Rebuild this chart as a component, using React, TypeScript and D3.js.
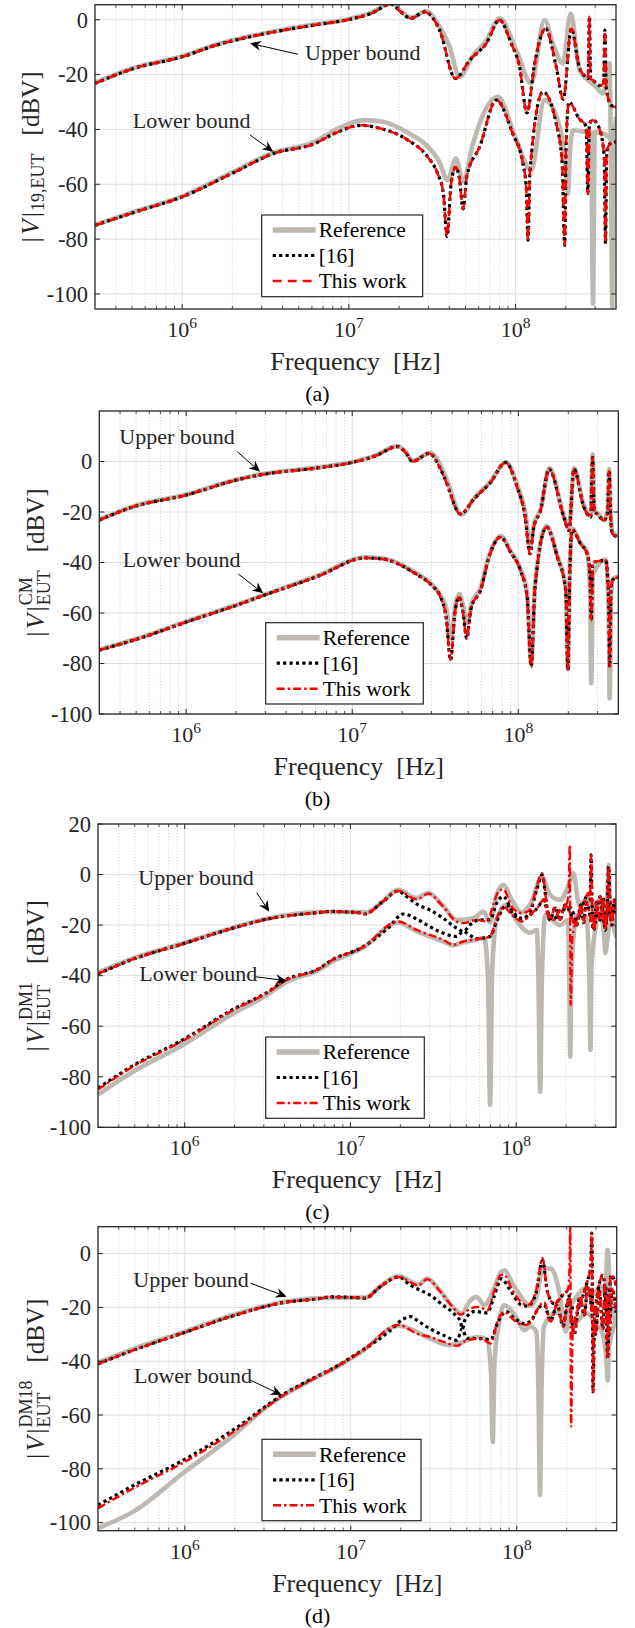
import React from 'react';
import * as d3 from 'd3';

type Pt = [number, number]; // [frequency in MHz, level in dBV]

// ---------------- Panel (a) ----------------
const aUpperRef: Pt[] = [[0.3,-23],[0.51,-17.6],[1,-13.3],[1.61,-9],[2.55,-6],[4.04,-3.6],[6.22,-1.7],[10,0.3],[13.6,2.6],[18,6.2],[20.5,3.2],[23.8,0.8],[29,3.1],[35,-2.5],[40,-9.5],[46.2,-20.8],[54.9,-13.5],[66.8,-7.5],[80.2,0.5],[101,-11.1],[124,-23.2],[149,-0.1],[170,-10],[192,-15.9],[214,2.3],[242,-18.4],[272,-22],[305,-24.5],[334,-26.9],[360,-18],[366,-15.9],[374,-60],[380,-104.8],[386,-60],[400,-35.4]];
const aUpper16: Pt[] = [[0.3,-23.2],[0.51,-17.8],[1,-13.5],[1.61,-9.2],[2.55,-6.2],[4.04,-3.8],[6.22,-1.9],[10,0.1],[13.6,2.3],[17.9,5.7],[20.5,2.8],[23.6,0.5],[28.4,2.9],[35,-3.8],[43.5,-21.4],[53,-14.7],[66.8,-8.6],[80,-0.1],[94,-8.6],[105.6,-17.2],[117,-34],[130,-16],[151,-3.2],[175,-17],[193,-29],[216,-3.2],[240,-17],[265,-21],[272,-21.5],[277,1.1],[282,-21.5],[290,-22],[320,-24],[337,-23],[343,-3.8],[350,-25],[374,-31.2],[400,-31.8]];
const aUpperThis: Pt[] = [[0.3,-23.2],[0.51,-17.8],[1,-13.5],[1.61,-9.2],[2.55,-6.2],[4.04,-3.8],[6.22,-1.9],[10,0.1],[13.6,2.3],[17.9,5.7],[20.5,2.8],[23.6,0.5],[28.4,2.9],[35,-3.8],[43.5,-21.4],[53,-14.7],[66.8,-8.6],[80,-0.1],[94,-8.6],[105.6,-17.2],[117,-34],[130,-16],[151,-3.2],[175,-17],[193,-29],[216,-3.2],[240,-17],[265,-21],[272,-21.5],[277,1.1],[282,-21.5],[290,-22],[320,-24],[337,-23],[343,-3.8],[350,-25],[374,-31.2],[400,-31.8]];
const aLowerRef: Pt[] = [[0.3,-74.8],[0.55,-69.5],[1,-64.4],[2,-55.6],[3.52,-48.5],[6.22,-44.5],[8.2,-40.3],[12.4,-36.6],[16,-37.2],[23,-41.5],[30,-46.5],[35,-52],[39,-58.5],[43.8,-50.6],[48.5,-59],[55,-46],[78.3,-28.1],[101,-43.9],[124,-54.9],[149,-29.3],[184,-39],[200,-55],[206,-63.4],[212,-48],[221,-40.3],[265,-40.9],[284,-41],[287,-70],[291,-103.6],[295,-70],[298,-41],[334,-41.5],[400,-45]];
const aLower16: Pt[] = [[0.3,-75],[0.55,-69.7],[1,-64.6],[2,-56],[3.52,-48.8],[6.22,-45.2],[8.2,-41.5],[11.9,-38.5],[15.6,-39.7],[22.6,-43.9],[29.7,-50],[34,-56],[36.8,-63],[38.8,-79],[41,-60],[43.8,-53.7],[46,-58],[48.4,-69],[51,-57],[60.8,-46.4],[76.6,-29.3],[96,-41.5],[110.7,-52.5],[116,-62],[118.6,-80.4],[122,-55],[146,-26.3],[175,-37.8],[190,-52],[197,-82.3],[201,-45],[209,-30],[240,-36],[265,-39],[271,-63.4],[277,-38],[290,-36.6],[318,-39.7],[340,-50],[346,-81.7],[352,-48],[369,-45.2],[401,-44.5]];
const aLowerThis: Pt[] = [[0.3,-75],[0.55,-69.7],[1,-64.6],[2,-56],[3.52,-48.8],[6.22,-45.2],[8.2,-41.5],[11.9,-38.5],[15.6,-39.7],[22.6,-43.9],[29.7,-50],[34,-56],[36.8,-63],[38.8,-79],[41,-60],[43.8,-53.7],[46,-58],[48.4,-69],[51,-57],[60.8,-46.4],[76.6,-29.3],[96,-41.5],[110.7,-52.5],[116,-62],[118.6,-80.4],[122,-55],[146,-26.3],[175,-37.8],[190,-52],[197,-82.3],[201,-45],[209,-30],[240,-36],[265,-39],[271,-63.4],[277,-38],[290,-36.6],[318,-39.7],[340,-50],[346,-81.7],[352,-48],[369,-45.2],[401,-44.5]];

// ---------------- Panel (b) ----------------
const bUpperRef: Pt[] = [[0.3,-23],[0.484,-17.7],[1,-13.1],[1.94,-7.4],[2.8,-5.1],[6.44,-2.2],[10,-0.2],[13.8,2.4],[18.7,6.1],[21,3.8],[23.2,0.3],[29.5,3.4],[34.5,-2.4],[37,-7],[45.5,-21],[54,-14.6],[68,-8],[84.5,-0.3],[98.6,-9.5],[110,-20],[118,-33],[124,-25],[136,-19],[154,-2.6],[188,-21.5],[202,-26.5],[217,-2.6],[248,-17.5],[273,-21.5],[280,2.9],[287,-19.5],[299,-20.3],[328,-23],[345,-19.5],[352,-3],[360,-21.5],[369,-28],[404,-29.5]];
const bUpper16: Pt[] = [[0.3,-23.2],[0.484,-17.9],[1,-13.3],[1.94,-7.6],[2.8,-5.3],[6.44,-2.4],[10,-0.4],[13.8,2.2],[18.7,5.9],[21,3.5],[23,0],[29,3.2],[34,-3],[36.5,-7.6],[44.9,-20.8],[54,-14.9],[68,-8.3],[83.8,-0.4],[98.6,-10.3],[110,-22],[117.5,-36.6],[124,-26],[136,-19.5],[153,-3],[188,-22],[202,-27.4],[216,-3],[248,-18],[273,-22],[280,1.6],[287,-20],[299,-20.8],[328,-23.4],[345,-20],[352,-3.7],[360,-22],[369,-28.7],[404,-30]];
const bUpperThis: Pt[] = [[0.3,-23.2],[0.484,-17.9],[1,-13.3],[1.94,-7.6],[2.8,-5.3],[6.44,-2.4],[10,-0.4],[13.8,2.2],[18.7,5.9],[21,3.5],[23,0],[29,3.2],[34,-3],[36.5,-7.6],[44.9,-20.8],[54,-14.9],[68,-8.3],[83.8,-0.4],[98.6,-10.3],[110,-22],[117.5,-36.6],[124,-26],[136,-19.5],[153,-3],[188,-22],[202,-27.4],[216,-3],[248,-18],[273,-22],[280,1.6],[287,-20],[299,-20.8],[328,-23.4],[345,-20],[352,-3.7],[360,-22],[369,-28.7],[404,-30]];
const bLowerRef: Pt[] = [[0.3,-74.5],[0.55,-69.4],[1,-63.4],[2,-56.8],[2.94,-52.8],[6.2,-45.2],[12,-37.9],[15.2,-38.3],[24.1,-44],[30,-48.5],[34,-53],[36.8,-58],[39.3,-70],[42,-56],[44.2,-52.5],[46.8,-58],[49.2,-64],[52.5,-56],[59.3,-50],[66.5,-37.5],[78.5,-29.5],[90,-35.5],[103,-42.5],[113,-52],[119.6,-80],[126,-49],[148,-25.6],[172,-37.5],[193,-50],[199,-82],[204,-44],[211,-26.6],[237,-32.2],[260,-36.2],[270,-50],[275,-87.8],[281,-45],[336,-38.8],[350,-60],[355,-93.8],[361,-55],[369,-46.5],[404,-45.5]];
const bLower16: Pt[] = [[0.3,-74.7],[0.55,-69.6],[1,-63.6],[2,-57],[2.94,-53],[6.2,-45.5],[12,-38.2],[15.2,-38.6],[24.1,-44.5],[30,-49],[34,-53.7],[36.8,-62],[39.1,-78.6],[41.5,-60],[43.9,-53.7],[46.5,-60],[48.9,-70.1],[52,-58],[59.3,-51],[66.5,-38],[78.2,-30],[90,-36],[103,-43.1],[113,-53.7],[119.6,-81.3],[126,-50],[148,-26],[172,-37.9],[193,-51],[199,-82.6],[204,-45],[211,-27],[237,-32.6],[260,-36.6],[270,-45],[275,-62.9],[281,-40],[336,-39.2],[350,-55],[355,-81.3],[362,-50],[369,-47],[404,-45.8]];
const bLowerThis: Pt[] = [[0.3,-74.7],[0.55,-69.6],[1,-63.6],[2,-57],[2.94,-53],[6.2,-45.5],[12,-38.2],[15.2,-38.6],[24.1,-44.5],[30,-49],[34,-53.7],[36.8,-62],[39.1,-78.6],[41.5,-60],[43.9,-53.7],[46.5,-60],[48.9,-70.1],[52,-58],[59.3,-51],[66.5,-38],[78.2,-30],[90,-36],[103,-43.1],[113,-53.7],[119.6,-81.3],[126,-50],[148,-26],[172,-37.9],[193,-51],[199,-82.6],[204,-45],[211,-27],[237,-32.6],[260,-36.6],[270,-45],[275,-62.9],[281,-40],[336,-39.2],[350,-55],[355,-81.3],[362,-50],[369,-47],[404,-45.8]];

// ---------------- Panel (c) ----------------
const cUpperRef: Pt[] = [[0.3,-38.8],[0.488,-33.2],[1,-27],[1.96,-21],[3.11,-17.5],[6.55,-14.8],[11.9,-14.8],[12.5,-15],[15.7,-10.5],[19.4,-6],[25.1,-9.3],[29.5,-7.3],[36.3,-12.5],[43.7,-18],[50,-17.8],[57.7,-16.6],[63.3,-14.6],[69.5,-19],[76.2,-8],[83.6,-4.1],[94,-10],[108,-15],[121,-12],[143,-1],[160,-8],[184,-10],[205,-5],[221,0.5],[240,-12],[265,-10],[292,-12],[321,-10],[344,-20],[355,-10],[361,3.8],[368,-12],[385,-20],[405,-25]];
const cUpper16: Pt[] = [[0.3,-39.3],[0.488,-33.5],[1,-27.2],[1.96,-21.2],[3.11,-17.7],[6.55,-15],[7.5,-14.6],[11.9,-15.3],[12.2,-15.6],[15.7,-10.7],[19.4,-6.5],[21.8,-8.7],[25.6,-12],[30.1,-14],[36.3,-17.3],[43.7,-21.2],[48,-22.5],[52.6,-19.9],[60.4,-17.9],[69.5,-17.9],[76.2,-11.3],[83.6,-8.7],[94,-14],[108,-17.3],[121,-15],[133,-6],[143,-0.1],[156,-15.3],[168,-17.9],[184,-14],[197,-13.5],[211,-13],[232,-17.9],[255,-11.3],[273,-7.4],[279,-10],[283,7.8],[287,-12],[292,-22],[321,-8.7],[344,-20.6],[355,-10],[361,3.2],[367,-10],[378,-15.3],[405,-10]];
const cUpperThis: Pt[] = [[0.3,-39.3],[0.488,-33.5],[1,-27.2],[1.96,-21.2],[3.11,-17.7],[6.55,-15],[7.5,-14.6],[11.9,-15.3],[12.2,-15.6],[15.7,-10.7],[19.4,-6.5],[25.1,-9.8],[29.5,-7.6],[36.3,-12.7],[43.7,-18.6],[48,-19.2],[57.7,-17.9],[66.4,-18.6],[72.8,-12],[78,-6.7],[83.6,-5.8],[94,-12.7],[108,-15.3],[121,-14],[133,-4.7],[143,0.5],[156,-15.3],[168,-17.9],[184,-14],[197,-13],[207,-8],[210.5,11.7],[213,-51.6],[218,-25],[232,-17.9],[255,-11.3],[273,-7.4],[279,-10],[283,7.8],[287,-12],[292,-22],[321,-8.7],[344,-20.6],[355,-10],[361,3.2],[367,-10],[378,-15.3],[405,-10]];
const cLowerRef: Pt[] = [[0.3,-87],[0.488,-78],[1,-67],[1.96,-55],[3.11,-47.8],[4.11,-42.5],[6.55,-37.5],[7.5,-35],[11.9,-29],[19.4,-19],[25.1,-22.5],[30.1,-24.5],[36.3,-26.5],[41.7,-28],[48,-26.8],[57.7,-25.8],[64,-25],[67.5,-40],[69.6,-91.1],[71.5,-40],[76.2,-18],[87.6,-12],[100,-18],[121,-23],[133,-22],[136,-40],[139.6,-85.9],[143,-40],[150,-16],[184,-20],[205,-18],[209,-40],[212,-72],[215,-40],[232,-16],[265,-17],[276,-40],[280.6,-69.4],[285,-35],[321,-15],[340,-25],[345,-31.1],[365,-20],[405,-18]];
const cLower16: Pt[] = [[0.3,-84.5],[0.488,-75.6],[1,-65],[1.96,-53.3],[3.11,-46.8],[4.11,-41.5],[6.55,-37],[7.5,-34.3],[11.9,-28.6],[17,-21],[20.8,-15.6],[25.6,-17.9],[30.1,-20.6],[36.3,-23.2],[43.7,-24.5],[48,-22.5],[52.6,-24],[57.7,-25.4],[69.5,-24.5],[76.2,-18.5],[87.6,-12],[94,-15],[108,-18],[121,-16],[136,-12.7],[146,-10],[160,-17.9],[172,-13],[184,-18],[197,-12],[232,-20],[245,-12],[255,-19],[265,-11],[292,-21],[305,-11],[321,-18],[335,-9],[344,-22],[360,-12],[378,-20],[390,-10],[405,-17]];
const cLowerThis: Pt[] = [[0.3,-85],[0.488,-76],[1,-65.4],[1.96,-53.6],[3.11,-47],[4.11,-41.7],[6.55,-37.1],[7.5,-34.4],[11.9,-28.7],[19.4,-18.6],[25.1,-21.9],[30.1,-23.9],[36.3,-25.8],[41.7,-27.8],[48,-26.5],[57.7,-25.6],[69.5,-24.5],[76.2,-17.3],[83.6,-12.7],[94,-15.9],[108,-18.6],[121,-16],[136,-12.7],[146,-10],[160,-17.9],[172,-13],[184,-18],[197,-12],[232,-20],[245,-12],[255,-19],[265,-11],[292,-21],[305,-11],[321,-18],[335,-9],[344,-22],[360,-12],[378,-20],[390,-10],[405,-17]];

// ---------------- Panel (d) ----------------
const dUpperRef: Pt[] = [[0.3,-40.5],[0.487,-35.5],[1,-29],[1.96,-22.8],[3.93,-18],[6.55,-16.5],[11.7,-16.3],[12.2,-16.4],[15,-12.2],[19.4,-8.3],[25.6,-11.5],[28.8,-9.3],[34.7,-14],[41.8,-20.3],[46.5,-22.3],[52.7,-17.3],[57,-16.1],[64,-19],[72.9,-13],[80,-7],[84.5,-6.2],[94,-11],[106,-16],[121,-19.5],[133,-15],[143,-5.6],[160,-5.6],[180,-14],[197,-29],[210,-20],[230,-16],[255,-13],[290,-15],[320,-12],[340,-15],[353,1.4],[365,-15],[397,-26]];
const dUpper16: Pt[] = [[0.3,-41],[0.487,-36],[1,-29.3],[1.96,-23.1],[3.93,-18.2],[6.55,-16.7],[7.5,-16.1],[11.7,-16.5],[12.2,-16.6],[15,-12.4],[19.4,-8.7],[22.9,-11.8],[26,-13.5],[30.2,-15.5],[36,-19.2],[41.8,-22.3],[45.8,-25.4],[47,-28],[49,-24.2],[56,-21.5],[66.5,-22],[72.9,-16],[81,-9.3],[90,-13],[106,-19],[116,-19.5],[130,-15],[143,-2.5],[153,-14.2],[168,-18.6],[189,-15.5],[204,-14],[212,-20],[233,-20.4],[255,-14.2],[267,-10],[279,-5],[283,7.6],[286,-20],[288,-51.4],[294,-25],[308,-14.2],[330,-8],[345,-20],[353,-39],[362,-15],[370,-8],[397,-11.8]];
const dUpperThis: Pt[] = [[0.3,-41],[0.487,-36],[1,-29.3],[1.96,-23.1],[3.93,-18.2],[6.55,-16.7],[7.5,-16.1],[11.7,-16.5],[12.2,-16.6],[15,-12.4],[19.4,-8.7],[25.6,-11.8],[28.8,-9.5],[34.7,-14.2],[41.8,-20.4],[45.8,-22.7],[52.7,-20.4],[59.2,-19.8],[66.5,-21.1],[72.9,-14.2],[80,-8],[83.8,-7.8],[94,-13.6],[106,-18],[116,-19.2],[130,-14.2],[143,-1.7],[153,-14.2],[168,-18.6],[189,-15.5],[204,-13],[208,-5],[210,12],[212.5,-64.4],[217,-30],[233,-20.4],[255,-14.2],[267,-10],[279,-5],[283,7.6],[286,-20],[288,-51.4],[294,-25],[308,-14.2],[330,-8],[345,-20],[353,-39],[362,-15],[370,-8],[397,-11.8]];
const dLowerRef: Pt[] = [[0.3,-102],[0.487,-96],[1,-81.1],[1.96,-67.6],[3.1,-57],[3.93,-52.7],[6.55,-45.3],[7.5,-43.5],[11.9,-36],[19.4,-26.8],[30,-31.5],[39,-34],[48,-32.7],[57.7,-31],[66.5,-32],[70,-45],[71.6,-70],[73.5,-40],[78,-26],[83.8,-19.2],[100,-24],[110.7,-28.5],[121,-27],[131,-29],[135,-50],[138,-89.8],[141,-50],[146,-27],[170,-22],[197,-22],[230,-25],[260,-22],[300,-26],[330,-30],[347,-40],[353,-47.2],[360,-35],[397,-25]];
const dLower16: Pt[] = [[0.3,-93.5],[0.487,-86.3],[1,-76.5],[1.96,-65.5],[3.93,-52.3],[6.55,-45],[7.5,-43.2],[11.9,-35.7],[17,-29],[20.9,-24.2],[22.9,-23.4],[26,-25.5],[30,-27.9],[36.3,-30.4],[43.7,-32.2],[46.9,-28],[50,-31.5],[60.5,-31.6],[69.6,-32],[76.4,-26],[86,-21.5],[96.4,-24],[110.7,-26],[121.6,-25],[136,-20],[146,-19],[160,-25],[175,-19],[190,-27],[205,-17],[222,-30],[240,-16],[255,-23],[268,-12],[298,-30],[315,-14],[330,-28],[342,-12],[360,-30],[375,-13],[397,-22]];
const dLowerThis: Pt[] = [[0.3,-94.7],[0.487,-87.3],[1,-77.4],[1.96,-66.3],[3.93,-52.7],[6.55,-45.3],[7.5,-43.4],[11.9,-35.9],[19.4,-26.5],[25,-29.7],[30,-31],[36.3,-32.8],[43.7,-34.3],[49.9,-32.2],[60.5,-31.6],[69.6,-33.4],[76.4,-25.3],[83.8,-21.7],[96.4,-24.8],[110.7,-26.6],[121.6,-25.5],[136,-19.8],[146,-18],[160,-25.3],[175,-19],[190,-27],[205,-17],[222,-30],[240,-16],[255,-23],[268,-12],[298,-30],[315,-14],[330,-28],[342,-12],[360,-30],[375,-13],[397,-22]];

// ---------------- Axis & text ----------------
const X_DOMAIN: [number, number] = [3e5, 4e8];
const X_MAJOR = [1e6, 1e7, 1e8];
const X_MAJOR_EXP = ['6', '7', '8'];
const LEGEND_LABELS = ['Reference', '[16]', 'This work'];
const X_LABEL = 'Frequency  [Hz]';
const Y_UNIT = '[dBV]';

const FONT = "'Liberation Serif', 'Times New Roman', serif";
const REF_COLOR = '#bdb9b1';
const AX = '#262626';

let _ctx: CanvasRenderingContext2D | null = null;
function measure(t: string, size: number, italic = false): number {
  if (typeof document === 'undefined') return t.length * size * 0.5;
  if (!_ctx) _ctx = document.createElement('canvas').getContext('2d');
  if (!_ctx) return t.length * size * 0.5;
  _ctx.font = `${italic ? 'italic ' : ''}${size}px ${FONT}`;
  return _ctx.measureText(t).width;
}

interface Anno { text: string; tx: number; ty: number; x1: number; y1: number; x2: number; y2: number; }
interface PanelCfg {
  letter: string;
  box: { l: number; r: number; t: number; b: number };
  yDomain: [number, number];
  yTicks: number[];
  sup?: string;
  sub: string;
  labelX: number;
  ref: Pt[][]; s16: Pt[][]; ours: Pt[][];
  dash: string;
  legend: { l: number; t: number; w: number; h: number };
  annos: Anno[];
}

const panels: PanelCfg[] = [
  {
    letter: '(a)', box: { l: 95, r: 616, t: 4.7, b: 309 }, yDomain: [-105.5, 5.5], yTicks: [-100, -80, -60, -40, -20, 0],
    sub: '19,EUT', labelX: 39,
    ref: [aUpperRef, aLowerRef], s16: [aUpper16, aLower16], ours: [aUpperThis, aLowerThis],
    dash: '9,6',
    legend: { l: 261.7, t: 215, w: 161, h: 81.7 },
    annos: [
      { text: 'Upper bound', tx: 305, ty: 59.5, x1: 298, y1: 54.3, x2: 250, y2: 43.3 },
      { text: 'Lower bound', tx: 132.7, ty: 127.5, x1: 250, y1: 135, x2: 273.3, y2: 151.7 },
    ],
  },
  {
    letter: '(b)', box: { l: 99.3, r: 618.3, t: 411, b: 714 }, yDomain: [-100, 20], yTicks: [-100, -80, -60, -40, -20, 0],
    sup: 'CM', sub: 'EUT', labelX: 43.5,
    ref: [bUpperRef, bLowerRef], s16: [bUpper16, bLower16], ours: [bUpperThis, bLowerThis],
    dash: '8,3,2.5,3',
    legend: { l: 265.7, t: 622.7, w: 157.6, h: 81.3 },
    annos: [
      { text: 'Upper bound', tx: 119.3, ty: 444.3, x1: 237.3, y1: 451.7, x2: 260, y2: 471.7 },
      { text: 'Lower bound', tx: 122.7, ty: 566.7, x1: 238.3, y1: 574, x2: 263.3, y2: 593.3 },
    ],
  },
  {
    letter: '(c)', box: { l: 98, r: 616, t: 824, b: 1127.3 }, yDomain: [-100, 20], yTicks: [-100, -80, -60, -40, -20, 0, 20],
    sup: 'DM1', sub: 'EUT', labelX: 43.5,
    ref: [cUpperRef, cLowerRef], s16: [cUpper16, cLower16], ours: [cUpperThis, cLowerThis],
    dash: '8,3,2.5,3',
    legend: { l: 265.7, t: 1037, w: 158.6, h: 81.3 },
    annos: [
      { text: 'Upper bound', tx: 138.3, ty: 885, x1: 256.7, y1: 892.7, x2: 269.3, y2: 911.7 },
      { text: 'Lower bound', tx: 139.3, ty: 981, x1: 255, y1: 976.7, x2: 286.7, y2: 980.7 },
    ],
  },
  {
    letter: '(d)', box: { l: 98, r: 616.7, t: 1226.7, b: 1530.7 }, yDomain: [-103, 10], yTicks: [-100, -80, -60, -40, -20, 0],
    sup: 'DM18', sub: 'EUT', labelX: 44,
    ref: [dUpperRef, dLowerRef], s16: [dUpper16, dLower16], ours: [dUpperThis, dLowerThis],
    dash: '8,3,2.5,3',
    legend: { l: 262, t: 1439.3, w: 159, h: 81.4 },
    annos: [
      { text: 'Upper bound', tx: 133.3, ty: 1287.3, x1: 250.7, y1: 1283.3, x2: 286.7, y2: 1296.7 },
      { text: 'Lower bound', tx: 134, ty: 1383.3, x1: 250, y1: 1380, x2: 281.7, y2: 1395 },
    ],
  },
];

function YLabel({ cx, cy, sup, sub }: { cx: number; cy: number; sup?: string; sub: string }) {
  const M = 25, S = 18;
  const bar = measure('|', M);
  const v = measure('V', M, true);
  const pad = 2.5;
  const wSup = sup ? measure(sup, S) : 0;
  const wSub = measure(sub, S);
  const wS = Math.max(wSup, wSub);
  const gap = 18;
  const wU = measure(Y_UNIT, M);
  const wMain = bar * 2 + v + pad * 2;
  const total = wMain + 1 + wS + gap + wU;
  const x0 = -total / 2;
  const xs = x0 + wMain + 1;
  return (
    <g transform={`translate(${cx},${cy}) rotate(-90)`} fontFamily={FONT} fill="#262626">
      <text x={x0} y={0} fontSize={M}>|</text>
      <text x={x0 + bar + pad} y={0} fontSize={M} fontStyle="italic">V</text>
      <text x={x0 + bar + pad * 2 + v} y={0} fontSize={M}>|</text>
      {sup && <text x={xs} y={-12} fontSize={S}>{sup}</text>}
      <text x={xs} y={sup ? 6 : 4.5} fontSize={S}>{sub}</text>
      <text x={xs + wS + gap} y={0} fontSize={M}>{Y_UNIT}</text>
    </g>
  );
}

function Arrow({ a }: { a: Anno }) {
  const dx = a.x2 - a.x1, dy = a.y2 - a.y1;
  const len = Math.hypot(dx, dy);
  const ux = dx / len, uy = dy / len;
  const nx = -uy, ny = ux;
  const L = 11, W = 5, N = 3.5;
  const bx = a.x2 - L * ux, by = a.y2 - L * uy;
  const pts = [
    [a.x2, a.y2],
    [bx + W * nx, by + W * ny],
    [a.x2 - (L - N) * ux, a.y2 - (L - N) * uy],
    [bx - W * nx, by - W * ny],
  ].map(p => p.join(',')).join(' ');
  return (
    <g>
      <line x1={a.x1} y1={a.y1} x2={a.x2 - (L - N) * ux} y2={a.y2 - (L - N) * uy} stroke="#000" strokeWidth={1} />
      <polygon points={pts} fill="#000" />
      <text x={a.tx} y={a.ty} fontFamily={FONT} fontSize={22} fill="#262626">{a.text}</text>
    </g>
  );
}

function Panel({ cfg, idx }: { cfg: PanelCfg; idx: number }) {
  const { l, r, t, b } = cfg.box;
  const xs = d3.scaleLog().domain(X_DOMAIN).range([l, r]);
  const ys = d3.scaleLinear().domain(cfg.yDomain).range([b, t]);
  const line = d3.line<Pt>().x(d => xs(d[0] * 1e6)).y(d => ys(d[1])).curve(d3.curveMonotoneX);
  const clipId = `clip${idx}`;
  const minor: number[] = [];
  for (const dec of [1e5, 1e6, 1e7, 1e8]) {
    for (let k = 2; k <= 9; k++) {
      const v = k * dec;
      if (v > X_DOMAIN[0] * 1.001 && v < X_DOMAIN[1] * 0.999) minor.push(v);
    }
  }
  const TL = 5, TM = 3;
  const lg = cfg.legend;
  const entryY = [15, 40.5, 66];
  return (
    <g>
      <defs>
        <clipPath id={clipId}><rect x={l} y={t} width={r - l} height={b - t} /></clipPath>
      </defs>
      <rect x={l} y={t} width={r - l} height={b - t} fill="#fff" />
      {minor.map(v => (
        <line key={'mg' + v} x1={xs(v)} x2={xs(v)} y1={t} y2={b} stroke="#cccccc" strokeWidth={0.8} strokeDasharray="1.2,1.8" />
      ))}
      {X_MAJOR.map(v => (
        <line key={'Mg' + v} x1={xs(v)} x2={xs(v)} y1={t} y2={b} stroke="#dfdfdf" strokeWidth={1} />
      ))}
      {cfg.yTicks.map(v => (
        <line key={'yg' + v} x1={l} x2={r} y1={ys(v)} y2={ys(v)} stroke="#dfdfdf" strokeWidth={1} />
      ))}
      <g clipPath={`url(#${clipId})`} fill="none">
        {cfg.ref.map((d, i) => (
          <path key={'r' + i} d={line(d) || ''} stroke={REF_COLOR} strokeWidth={4.6} strokeLinejoin="round" />
        ))}
        {cfg.s16.map((d, i) => (
          <path key={'k' + i} d={line(d) || ''} stroke="#000" strokeWidth={3.2} strokeDasharray="3.2,3.2" />
        ))}
        {cfg.ours.map((d, i) => (
          <path key={'o' + i} d={line(d) || ''} stroke="#ff0000" strokeWidth={2.4} strokeDasharray={cfg.dash} />
        ))}
      </g>
      <rect x={l} y={t} width={r - l} height={b - t} fill="none" stroke={AX} strokeWidth={1.3} />
      {X_MAJOR.map(v => (
        <g key={'xt' + v}>
          <line x1={xs(v)} x2={xs(v)} y1={b} y2={b - TL} stroke={AX} strokeWidth={1} />
          <line x1={xs(v)} x2={xs(v)} y1={t} y2={t + TL} stroke={AX} strokeWidth={1} />
        </g>
      ))}
      {minor.map(v => (
        <g key={'xm' + v}>
          <line x1={xs(v)} x2={xs(v)} y1={b} y2={b - TM} stroke={AX} strokeWidth={0.8} />
          <line x1={xs(v)} x2={xs(v)} y1={t} y2={t + TM} stroke={AX} strokeWidth={0.8} />
        </g>
      ))}
      {cfg.yTicks.map(v => (
        <g key={'yt' + v}>
          <line x1={l} x2={l + TL} y1={ys(v)} y2={ys(v)} stroke={AX} strokeWidth={1} />
          <line x1={r} x2={r - TL} y1={ys(v)} y2={ys(v)} stroke={AX} strokeWidth={1} />
          <text x={l - 7} y={ys(v) + 7.8} textAnchor="end" fontFamily={FONT} fontSize={22.5} fill="#262626">{String(v)}</text>
        </g>
      ))}
      {X_MAJOR.map((v, i) => (
        <text key={'xl' + v} x={xs(v)} y={b + 28} textAnchor="middle" fontFamily={FONT} fontSize={22} fill="#262626">
          10<tspan dy={-9} fontSize={15.5}>{X_MAJOR_EXP[i]}</tspan>
        </text>
      ))}
      <text x={(l + r) / 2} y={b + 61} textAnchor="middle" fontFamily={FONT} fontSize={26} fill="#262626" style={{ whiteSpace: 'pre' }}>{X_LABEL}</text>
      <text x={317.5} y={b + 92} textAnchor="middle" fontFamily={FONT} fontSize={22} fill="#000">{cfg.letter}</text>
      <YLabel cx={cfg.labelX} cy={(t + b) / 2} sup={cfg.sup} sub={cfg.sub} />
      {cfg.annos.map((a, i) => <Arrow key={'a' + i} a={a} />)}
      <rect x={lg.l} y={lg.t} width={lg.w} height={lg.h} fill="#fff" stroke={AX} strokeWidth={1.2} />
      {LEGEND_LABELS.map((lab, i) => {
        const y = lg.t + entryY[i];
        const x1 = lg.l + 11, x2 = lg.l + 54;
        return (
          <g key={'lg' + i}>
            {i === 0 && <line x1={x1} x2={x2} y1={y} y2={y} stroke={REF_COLOR} strokeWidth={5.5} />}
            {i === 1 && <line x1={x1} x2={x2} y1={y} y2={y} stroke="#000" strokeWidth={3.2} strokeDasharray="3.2,3.2" />}
            {i === 2 && <line x1={x1} x2={x2} y1={y} y2={y} stroke="#ff0000" strokeWidth={2.4} strokeDasharray={cfg.dash} />}
            <text x={lg.l + 57} y={y + 7.3} fontFamily={FONT} fontSize={21.5} fill="#000">{lab}</text>
          </g>
        );
      })}
    </g>
  );
}

export default function App() {
  return (
    <svg width={635} height={1628} viewBox="0 0 635 1628" style={{ position: 'absolute', left: 0, top: 0, display: 'block', background: '#fff' }}>
      <rect x={0} y={0} width={635} height={1628} fill="#fff" />
      {panels.map((p, i) => <Panel key={p.letter} cfg={p} idx={i} />)}
    </svg>
  );
}
